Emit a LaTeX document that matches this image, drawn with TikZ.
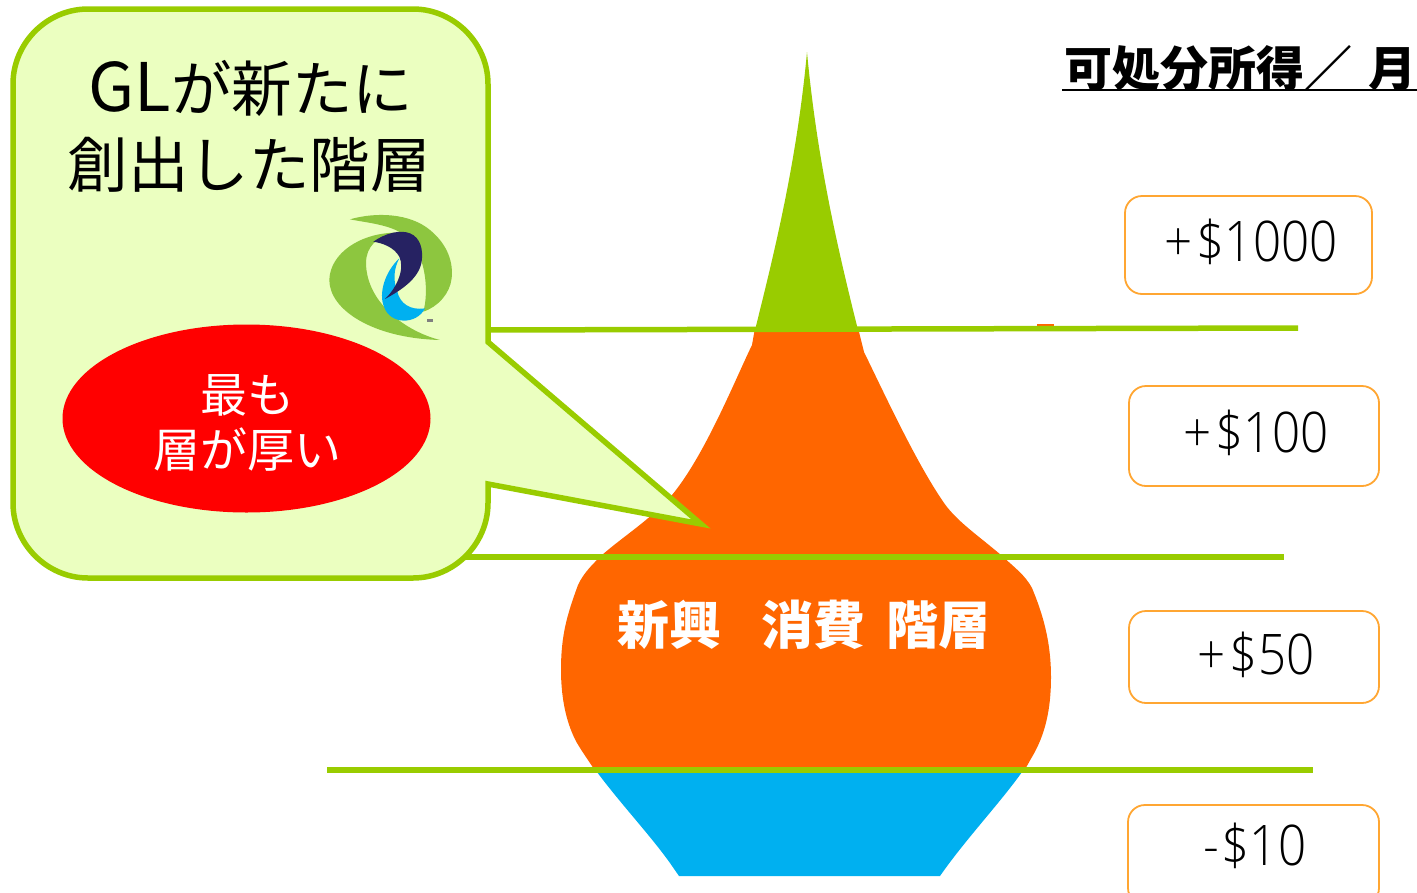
\documentclass[tikz,border=0pt]{standalone}
\usepackage{fontspec}
\setmainfont{Noto Sans CJK JP}
\newfontfamily\lightfont[UprightFont=* Light,FakeStretch=0.88]{Open Sans}
\definecolor{lime}{HTML}{99CC00}
\definecolor{vaseorange}{HTML}{FF6600}
\definecolor{vaseblue}{HTML}{00B0F0}
\definecolor{callfill}{HTML}{EBFFC0}
\definecolor{boxline}{HTML}{FFA632}
\definecolor{logogreen}{HTML}{8DC63F}
\definecolor{logonavy}{HTML}{262262}
\tikzset{
  x=1pt,y=-1pt,
  band/.style={draw=lime,line width=5.5pt},
  callout/.style={draw=lime,line width=5.5pt,fill=callfill,line join=miter},
  pricebox/.style={draw=boxline,line width=1.8pt,rounded corners=17pt,inner sep=0pt,fill=white},
  pricetext/.style={font=\lightfont\fontsize{56}{60}\selectfont,inner sep=0pt,text=black},
  calltext/.style={font=\fontsize{60.5}{66}\selectfont,inner sep=0pt},
  redtext/.style={font=\fontsize{47}{55}\selectfont,text=white,inner sep=0pt,align=center},
}
\begin{document}
\begin{tikzpicture}
\useasboundingbox (0,0) rectangle (1417,892);
\clip (0,0) rectangle (1417,892);
% vase
\fill[lime] (807,52) .. controls (797,160) and (775,250) .. (755,330) -- (858,330) .. controls (838,250) and (817,160) .. (807,52) -- cycle;
\fill[vaseorange] (755,328) -- (752,345)
  .. controls (735,380) and (705,455) .. (672,495)
  .. controls (650,520) and (625,535) .. (602,555)
  .. controls (594,563) and (584,572) .. (578,585)
  .. controls (567,615) and (561,635) .. (561,670)
  .. controls (561,700) and (567,725) .. (577,743)
  .. controls (583,753) and (588,760) .. (596,772)
  -- (1023,772)
  .. controls (1028,765) and (1030,760) .. (1032,757)
  .. controls (1045,735) and (1051,710) .. (1051,677)
  .. controls (1051,640) and (1042,612) .. (1032,588)
  .. controls (1025,575) and (1015,568) .. (1001,555)
  .. controls (975,533) and (955,520) .. (942,500)
  .. controls (915,460) and (885,395) .. (864,352)
  -- (858,328) -- cycle;
\fill[vaseblue] (597,772)
  .. controls (620,803) and (650,835) .. (670,863)
  -- (679,876) -- (940,876)
  .. controls (965,840) and (1000,803) .. (1022,772) -- cycle;
% bands
\coordinate (b1l) at (480,330); \coordinate (b1r) at (1298,328);
\coordinate (b2l) at (460,557); \coordinate (b2r) at (1284,557);
\coordinate (b3l) at (327,770); \coordinate (b3r) at (1313,770);
\fill[vaseorange] (1037,324) rectangle (1054,328);
\draw[band] (b1l) -- (b1r);
\draw[band] (b2l) -- (b2r);
\draw[band] (b3l) -- (b3r);
% callout
\draw[callout] (88,9) -- (413,9) .. controls (454,9) and (488,43) .. (488,84) -- (488,342) -- (701,524) -- (488,484)
  -- (488,503) .. controls (488,544) and (454,578) .. (413,578) -- (88,578) .. controls (47,578) and (13,544) .. (13,503) -- (13,84) .. controls (13,43) and (47,9) .. (88,9) -- cycle;
\node[calltext] (t1) at (251,88) {{\fontsize{67}{66}\selectfont GL}が新たに};
\node[calltext] (t2) at (249,165) {創出した階層};
% logo
\begin{scope}[shift={(310,200)},x=0.3333pt,y=-0.3333pt]
\fill[logogreen] (120,58) .. controls (200,35) and (300,40) .. (360,90) .. controls (415,135) and (430,190) .. (425,235) .. controls (420,280) and (385,320) .. (340,335) .. controls (358,270) and (345,170) .. (300,120) .. controls (260,75) and (180,70) .. (120,58) -- cycle;
\fill[logogreen] (255,98) .. controls (150,100) and (60,160) .. (58,240) .. controls (58,330) and (190,415) .. (390,420) .. controls (290,395) and (170,310) .. (168,190) .. controls (168,140) and (200,110) .. (255,98) -- cycle;
\fill[vaseblue] (268,175) .. controls (225,215) and (205,280) .. (222,320) .. controls (240,375) and (320,375) .. (345,325) .. controls (300,332) and (270,310) .. (262,275) .. controls (248,240) and (252,205) .. (268,175) -- cycle;
\fill[logonavy] (190,125) .. controls (225,100) and (270,88) .. (300,100) .. controls (332,113) and (340,150) .. (335,185) .. controls (327,235) and (275,270) .. (225,297) .. controls (262,262) and (285,205) .. (268,170) .. controls (252,142) and (220,130) .. (190,125) -- cycle;
\fill[gray] (352,358) rectangle (370,366);
\end{scope}
% red ellipse
\fill[red] (246.5,418.5) ellipse[x radius=184,y radius=94];
\node[redtext] (r1) at (247.5,395) {最も};
\node[redtext] (r2) at (247,450) {層が厚い};
% vase label
\node[inner sep=0pt,text=white,font=\bfseries\fontsize{52}{56}\selectfont] (v1) at (804,625) {新興\hspace{40pt}消費\hspace{21pt}階層};
% heading
\node[anchor=west,inner sep=0pt,font=\bfseries\fontsize{48}{52}\selectfont] (h) at (1064,68) {可処分所得／\hspace{16pt}月};
\coordinate (ul) at (1062,90); \coordinate (ur) at (1417,90);
\draw[line width=2.5pt] (ul) -- (ur);
% boxes
\node[pricebox,minimum width=247pt,minimum height=98pt] (p1) at (1248.5,245) {};
\node[pricebox,minimum width=250pt,minimum height=100pt] (p2) at (1254,436) {};
\node[pricebox,minimum width=250pt,minimum height=92pt] (p3) at (1254,657) {};
\node[pricebox,minimum width=251pt,minimum height=100pt] (p4) at (1253.5,855) {};
\node[pricetext] (q1) at (1251,242) {+\kern4pt\$1000};
\node[pricetext] (q2) at (1256,433) {+\kern4pt\$100};
\node[pricetext] (q3) at (1256,655) {+\kern4pt\$50};
\node[pricetext] (q4) at (1255,846) {-\kern2pt\$10};
\end{tikzpicture}
\end{document}
